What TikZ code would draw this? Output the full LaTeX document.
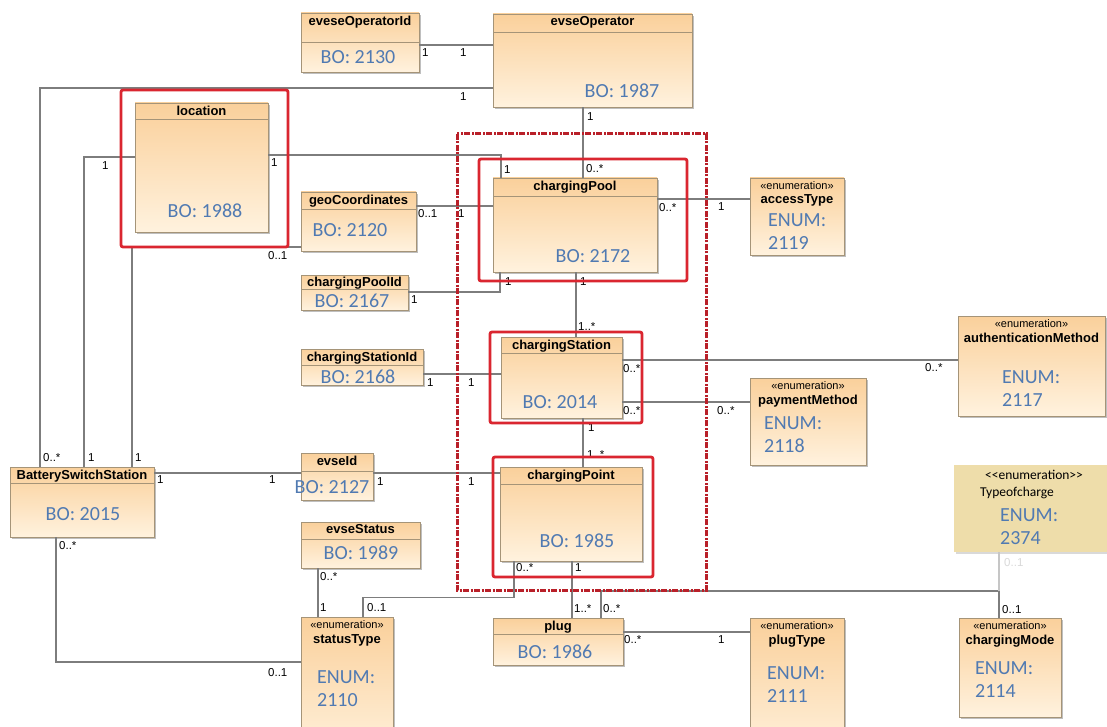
\documentclass[tikz,border=0pt]{standalone}
\usepackage{fontspec}
\setmainfont{Liberation Sans}
\newfontfamily\bofont{Carlito}
\usepackage{tikz}
\usetikzlibrary{positioning, shadows}
\definecolor{boxtop}{RGB}{250,208,155}
\definecolor{boxbot}{RGB}{255,242,222}
\definecolor{boxline}{RGB}{165,148,120}
\definecolor{boblue}{RGB}{80,122,178}
\definecolor{assocgray}{RGB}{125,125,125}
\definecolor{hired}{RGB}{218,38,48}
\definecolor{tocfill}{RGB}{238,221,170}
\tikzset{
    classbox/.style={
        rectangle, draw=boxline, line width=0.8pt, top color=boxtop, bottom color=boxbot,
        drop shadow={shadow xshift=2pt, shadow yshift=-2pt, fill=black, opacity=0.25}, inner sep=0pt
    },
    tocbox/.style={
        rectangle, draw=none, fill=tocfill,
        drop shadow={shadow xshift=2pt, shadow yshift=-2pt, fill=black, opacity=0.15}, inner sep=0pt
    },
    titlesep/.style={
        path picture={\draw[boxline, line width=0.8pt] ([yshift=-#1]path picture bounding box.north west) -- ([yshift=-#1]path picture bounding box.north east);}
    },
    ctitle/.style={font=\fontsize{13}{13}\selectfont\bfseries, inner sep=0pt},
    stereo/.style={font=\fontsize{11}{11}\selectfont, inner sep=0pt},
    tocfont/.style={font=\bofont\fontsize{13.5}{13.5}\selectfont, inner sep=0pt},
    bo/.style={font=\bofont\fontsize{20}{20}\selectfont, text=boblue, inner sep=0pt},
    enum/.style={font=\bofont\fontsize{20}{23}\selectfont, text=boblue, inner sep=0pt, align=left, anchor=west},
    mult/.style={font=\fontsize{11.5}{11.5}\selectfont, inner sep=0pt, anchor=west},
    assoc/.style={draw=assocgray, line width=1.2pt},
    hilite/.style={draw=hired, line width=2.8pt, rounded corners=2pt},
    hidash/.style={draw=hired!85!black, line width=3pt, dash pattern=on 6pt off 1.5pt on 2pt off 1.5pt}
}
\begin{document}
\begin{tikzpicture}[x=1pt, y=-1pt]
    \fill[white] (0,0) rectangle (1107,727);
    \useasboundingbox (0,0) rectangle (1107,727);

    % classes
    \node[classbox, titlesep=29pt, minimum width=118pt, minimum height=59pt] (eop) at (360,42.5) {};
    \node[ctitle, below=3pt of eop.north] {eveseOperatorId};
    \node[bo] at (358,57) {BO: 2130};

    \node[classbox, titlesep=18pt, minimum width=199pt, minimum height=93pt] (evop) at (592.5,60.5) {};
    \node[ctitle, below=3pt of evop.north] {evseOperator};
    \node[bo] at (622,91) {BO: 1987};

    \node[classbox, titlesep=16pt, minimum width=133pt, minimum height=129pt] (loc) at (201.5,167.5) {};
    \node[ctitle, below=3pt of loc.north] {location};
    \node[bo] at (205,211) {BO: 1988};

    \node[classbox, titlesep=17pt, minimum width=115pt, minimum height=59pt] (geo) at (358.5,221.5) {};
    \node[ctitle, below=3pt of geo.north] {geoCoordinates};
    \node[bo] at (350,230) {BO: 2120};

    \node[classbox, titlesep=14pt, minimum width=107pt, minimum height=35pt] (cpid) at (354.5,292.5) {};
    \node[ctitle, below=2pt of cpid.north] {chargingPoolId};
    \node[bo] at (352,301) {BO: 2167};

    \node[classbox, titlesep=16pt, minimum width=122pt, minimum height=36pt] (csid) at (362,367) {};
    \node[ctitle, below=3pt of csid.north] {chargingStationId};
    \node[bo] at (358,377) {BO: 2168};

    \node[classbox, titlesep=18pt, minimum width=72pt, minimum height=47pt] (evseid) at (337,476.5) {};
    \node[ctitle, below=3pt of evseid.north] {evseId};
    \node[bo] at (332,487) {BO: 2127};

    \node[classbox, titlesep=17pt, minimum width=119pt, minimum height=46pt] (evstat) at (360.5,545) {};
    \node[ctitle, below=3pt of evstat.north] {evseStatus};
    \node[bo] at (361,553) {BO: 1989};

    \node[classbox, titlesep=16pt, minimum width=144pt, minimum height=70pt] (bss) at (82,502) {};
    \node[ctitle, below=3pt of bss.north] {BatterySwitchStation};
    \node[bo] at (83,514) {BO: 2015};

    \node[classbox, titlesep=18pt, minimum width=164pt, minimum height=94pt] (pool) at (575,225) {};
    \node[ctitle, below=3pt of pool.north] {chargingPool};
    \node[bo] at (593,256) {BO: 2172};

    \node[classbox, titlesep=16pt, minimum width=121pt, minimum height=81pt] (station) at (561.5,377.5) {};
    \node[ctitle, below=3pt of station.north] {chargingStation};
    \node[bo] at (560,402) {BO: 2014};

    \node[classbox, titlesep=17pt, minimum width=142pt, minimum height=94pt] (point) at (571,514) {};
    \node[ctitle, below=3pt of point.north] {chargingPoint};
    \node[bo] at (577,541) {BO: 1985};

    \node[classbox, titlesep=16pt, minimum width=130pt, minimum height=47pt] (plug) at (558,641.5) {};
    \node[ctitle, below=3pt of plug.north] {plug};
    \node[bo] at (555,652) {BO: 1986};

    % enumerations
    \node[classbox, minimum width=94pt, minimum height=77pt] (access) at (797,216.5) {};
    \node[stereo, below=4pt of access.north] {«enumeration»};
    \node[ctitle, below=17pt of access.north] {accessType};
    \node[enum] at (768,231.5) {ENUM:\\2119};

    \node[classbox, minimum width=147pt, minimum height=100pt] (auth) at (1031.5,366) {};
    \node[stereo, below=4pt of auth.north] {«enumeration»};
    \node[ctitle, below=17pt of auth.north] {authenticationMethod};
    \node[enum] at (1002,388.5) {ENUM:\\2117};

    \node[classbox, minimum width=116pt, minimum height=87pt] (pay) at (808,421.5) {};
    \node[stereo, below=4pt of pay.north] {«enumeration»};
    \node[ctitle, below=17pt of pay.north] {paymentMethod};
    \node[enum] at (764,435) {ENUM:\\2118};

    \node[classbox, minimum width=92pt, minimum height=143pt] (status) at (347,688.5) {};
    \node[stereo, below=4pt of status.north] {«enumeration»};
    \node[ctitle, below=18pt of status.north] {statusType};
    \node[enum] at (317,688.5) {ENUM:\\2110};

    \node[classbox, minimum width=94pt, minimum height=142pt] (ptype) at (797,689) {};
    \node[stereo, below=4pt of ptype.north] {«enumeration»};
    \node[ctitle, below=17pt of ptype.north] {plugType};
    \node[enum] at (767,685) {ENUM:\\2111};

    \node[classbox, minimum width=102pt, minimum height=99pt] (mode) at (1010,667.5) {};
    \node[stereo, below=4pt of mode.north] {«enumeration»};
    \node[ctitle, below=17pt of mode.north] {chargingMode};
    \node[enum] at (975,679.5) {ENUM:\\2114};

    \node[tocbox, minimum width=166pt, minimum height=87pt] (toc) at (1037,508.5) {};
    \node[tocfont] at (1034,475) {<\kern0pt<enumeration>\kern0pt>};
    \node[tocfont, anchor=west] at (980,493) {Typeofcharge};
    \node[enum] at (1000,526.5) {ENUM:\\2374};

    % associations
    \coordinate (modejoin) at (999,591);
    \draw[assoc] (eop.east |- 0,45) -- (evop.west |- 0,45);
    \draw[assoc] (evop.west |- 0,88) -| (bss.north -| 40,0);
    \draw[assoc] (loc.west |- 0,157) -| (bss.north -| 84,0);
    \draw[assoc] (geo.west |- 0,247) -| (bss.north -| 132,0);
    \draw[assoc] (loc.east |- 0,155) -| (pool.north -| 501,0);
    \draw[assoc] (evop.south -| 583,0) -- (pool.north -| 583,0);
    \draw[assoc] (geo.east |- 0,206) -- (pool.west |- 0,206);
    \draw[assoc] (cpid.east |- 0,292) -| (pool.south -| 500,0);
    \draw[assoc] (pool.east |- 0,199) -- (access.west |- 0,199);
    \draw[assoc] (pool.south -| 576,0) -- (station.north -| 576,0);
    \draw[assoc] (csid.east |- 0,374) -- (station.west |- 0,374);
    \draw[assoc] (station.east |- 0,360) -- (auth.west |- 0,360);
    \draw[assoc] (station.east |- 0,402) -- (pay.west |- 0,402);
    \draw[assoc] (station.south -| 583,0) -- (point.north -| 583,0);
    \draw[assoc] (bss.east |- 0,473) -- (evseid.west |- 0,473);
    \draw[assoc] (evseid.east |- 0,473) -- (point.west |- 0,473);
    \draw[assoc] (bss.south -| 56,0) |- (status.west |- 0,662);
    \draw[assoc] (evstat.south -| 318,0) -- (status.north -| 318,0);
    \draw[assoc] (point.south -| 514,0) -- ++(0,36) -| (status.north -| 363,0);
    \draw[assoc] (point.south -| 572,0) -- (plug.north -| 572,0);
    \draw[assoc] (plug.north -| 601,0) |- (modejoin) -- (mode.north -| 999,0);
    \draw[assoc, draw=gray!45] (toc.south -| 999,0) -- (modejoin);
    \draw[assoc] (plug.east |- 0,632) -- (ptype.west |- 0,632);

    % multiplicities
    \node[mult] at (422,53) {1}; \node[mult] at (460,53) {1};
    \node[mult] at (460,97) {1}; \node[mult] at (43,458) {0..*};
    \node[mult] at (102,166) {1}; \node[mult] at (88,458) {1};
    \node[mult] at (268,256) {0..1}; \node[mult] at (135,458) {1};
    \node[mult] at (271,163) {1}; \node[mult] at (504,170) {1};
    \node[mult] at (587,117) {1}; \node[mult] at (586,169) {0..*};
    \node[mult] at (418,214) {0..1}; \node[mult] at (458,214) {1};
    \node[mult] at (411,300) {1}; \node[mult] at (505,282) {1};
    \node[mult] at (659,208) {0..*}; \node[mult] at (718,207) {1};
    \node[mult] at (580,282) {1}; \node[mult] at (578,327) {1..*};
    \node[mult] at (427,383) {1}; \node[mult] at (468,383) {1};
    \node[mult] at (623,369) {0..*}; \node[mult] at (925,368) {0..*};
    \node[mult] at (623,411) {0..*}; \node[mult] at (717,411) {0..*};
    \node[mult] at (588,428) {1}; \node[mult] at (587,455) {1..*};
    \node[mult] at (157,480) {1}; \node[mult] at (269,480) {1};
    \node[mult] at (377,482) {1}; \node[mult] at (468,482) {1};
    \node[mult] at (59,546) {0..*}; \node[mult] at (268,673) {0..1};
    \node[mult] at (320,577) {0..*}; \node[mult] at (320,608) {1};
    \node[mult] at (516,568) {0..*}; \node[mult] at (367,608) {0..1};
    \node[mult] at (575,568) {1}; \node[mult] at (574,609) {1..*};
    \node[mult] at (603,609) {0..*}; \node[mult] at (1002,610) {0..1};
    \node[mult, text=gray!30] at (1004,563) {0..1};
    \node[mult] at (624,640) {0..*}; \node[mult] at (718,640) {1};

    % highlight frames
    \draw[hilite] (121,90) rectangle (288,247);
    \draw[hilite] (479,159) rectangle (687,281);
    \draw[hilite] (490,332) rectangle (642,423);
    \draw[hilite] (493,457) rectangle (653,577);
    \draw[hidash] (457,134) rectangle (706,590);
\end{tikzpicture}
\end{document}
